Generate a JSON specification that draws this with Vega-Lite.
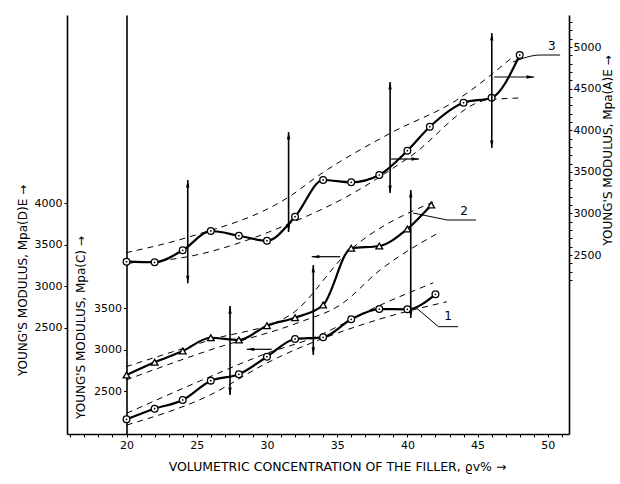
{
  "$schema": "https://vega.github.io/schema/vega-lite/v6.json",
  "width": 502,
  "height": 419,
  "autosize": "none",
  "padding": {"left": 67, "top": 15, "right": 51, "bottom": 50},
  "background": "white",
  "config": {
    "view": {"stroke": null},
    "font": "DejaVu Sans",
    "axis": {
      "grid": false,
      "domainColor": "#000",
      "domainWidth": 1.6,
      "tickColor": "#000",
      "tickSize": 3,
      "labelColor": "#000",
      "labelFont": "DejaVu Sans",
      "labelFontSize": 11,
      "labelFlush": false,
      "labelOverlap": false,
      "titleColor": "#000",
      "titleFont": "DejaVu Sans",
      "titleFontSize": 12,
      "titleFontWeight": "normal"
    }
  },
  "datasets": {
    "c1": [{"x":20,"y":2163},{"x":22,"y":2290},{"x":24,"y":2395},{"x":26,"y":2627},{"x":28,"y":2704},{"x":30,"y":2915},{"x":32,"y":3128},{"x":34,"y":3148},{"x":36,"y":3365},{"x":38,"y":3488},{"x":40,"y":3485},{"x":42,"y":3665}],
    "c2": [{"x":20,"y":2695},{"x":22,"y":2848},{"x":24,"y":2984},{"x":26,"y":3143},{"x":28,"y":3116},{"x":30,"y":3288},{"x":32,"y":3384},{"x":34,"y":3536},{"x":36,"y":4218},{"x":38,"y":4246},{"x":40,"y":4450},{"x":41.7,"y":4738}],
    "c3": [{"x":20,"y":2420},{"x":22,"y":2413},{"x":24,"y":2557},{"x":26,"y":2789},{"x":28,"y":2732},{"x":30,"y":2672},{"x":32,"y":2961},{"x":34,"y":3402},{"x":36,"y":3374},{"x":38,"y":3462},{"x":40,"y":3754},{"x":41.6,"y":4042},{"x":44,"y":4331},{"x":46,"y":4391},{"x":48,"y":4904}],
    "bandC": [
      {"band":"1u","x":20.01,"y":2235},{"band":"1u","x":25.95,"y":2675},{"band":"1u","x":29.99,"y":2956},{"band":"1u","x":33.28,"y":3140},{"band":"1u","x":37.82,"y":3516},{"band":"1u","x":41.85,"y":3804},
      {"band":"1l","x":20.01,"y":2094},{"band":"1l","x":25.95,"y":2455},{"band":"1l","x":29.99,"y":2839},{"band":"1l","x":37.82,"y":3356},{"band":"1l","x":42.81,"y":3576},
      {"band":"2u","x":19.96,"y":2795},{"band":"2u","x":25.95,"y":3116},{"band":"2u","x":31.65,"y":3416},{"band":"2u","x":35.92,"y":4197},{"band":"2u","x":41.83,"y":4774},
      {"band":"2l","x":19.96,"y":2635},{"band":"2l","x":25.95,"y":2996},{"band":"2l","x":32.36,"y":3332},{"band":"2l","x":35.21,"y":3536},{"band":"2l","x":38.06,"y":3957},{"band":"2l","x":42.33,"y":4414}
    ],
    "bandA": [
      {"band":"3u","x":19.96,"y":2528},{"band":"3u","x":24.36,"y":2713},{"band":"3u","x":31.77,"y":3222},{"band":"3u","x":33.55,"y":3441},{"band":"3u","x":38.77,"y":3963},{"band":"3u","x":43.52,"y":4363},{"band":"3u","x":47.53,"y":4884},
      {"band":"3l","x":20.01,"y":2401},{"band":"3l","x":24.36,"y":2480},{"band":"3l","x":31.93,"y":2901},{"band":"3l","x":35.68,"y":3201},{"band":"3l","x":40.19,"y":3682},{"band":"3l","x":45.66,"y":4363},{"band":"3l","x":48.03,"y":4387}
    ],
    "vC": [{"x":27.37,"y":3524,"y2":2455},{"x":33.3,"y":4017,"y2":2936},{"x":40.24,"y":4919,"y2":3380}],
    "vA": [{"x":24.36,"y":3402,"y2":2160},{"x":31.54,"y":3979,"y2":2777},{"x":38.77,"y":4580,"y2":3246},{"x":46.01,"y":5169,"y2":3786}],
    "hC": [{"x":35.21,"x2":33.19,"y":4117},{"x":30.34,"x2":28.56,"y":3004}],
    "hA": [{"x":38.84,"x2":40.83,"y":3654},{"x":46.18,"x2":49.03,"y":4640}],
    "leadC": [
      {"id":"1","x":40.67,"y":3497},{"id":"1","x":42.21,"y":3276},{"id":"1","x":43.61,"y":3276},
      {"id":"2","x":40.41,"y":4642},{"id":"2","x":42.83,"y":4558},{"id":"2","x":44.89,"y":4558}
    ],
    "labC": [{"x":42.9,"y":3320,"label":"1"},{"x":44.04,"y":4582,"label":"2"}],
    "leadA": [{"id":"3","x":47.53,"y":4820},{"id":"3","x":49.46,"y":4904},{"id":"3","x":50.88,"y":4904}],
    "labA": [{"x":50.28,"y":4928,"label":"3"}]
  },
  "encoding": {
    "x": {
      "field": "x",
      "type": "quantitative",
      "scale": {"domain": [15.76, 51.51], "nice": false, "zero": false},
      "axis": {
        "orient": "bottom",
        "values": [16,17,18,19,20,21,22,23,24,25,26,27,28,29,30,31,32,33,34,35,36,37,38,39,40,41,42,43,44,45,46,47,48,49,50,51],
        "labelExpr": "datum.value % 5 === 0 ? datum.label : ''",
        "labelPadding": 2,
        "title": "VOLUMETRIC CONCENTRATION OF THE FILLER, ϱv% →",
        "titleX": 270,
        "titleY": 32,
        "titleAlign": "center",
        "titleBaseline": "middle",
        "titleFontSize": 12.5
      }
    }
  },
  "layer": [
    {
      "encoding": {
        "y": {
          "field": "y",
          "type": "quantitative",
          "scale": {"domain": [1986, 7022], "nice": false, "zero": false},
          "axis": {
            "orient": "left",
            "offset": -59.5,
            "values": [2500, 3000, 3500],
            "format": "d",
            "title": "YOUNG'S MODULUS, Mpa(C) →",
            "titleX": -46,
            "titleY": 312,
            "titleAngle": 270,
            "titleAlign": "center",
            "titleBaseline": "middle"
          }
        }
      },
      "layer": [
        {"data": {"name": "bandC"}, "mark": {"type": "line", "color": "black", "strokeWidth": 1, "strokeDash": [6, 5], "interpolate": "monotone"}, "encoding": {"detail": {"field": "band"}}},
        {"data": {"name": "c1"}, "mark": {"type": "line", "color": "black", "strokeWidth": 2.2, "interpolate": "monotone"}, "encoding": {}},
        {"data": {"name": "c2"}, "mark": {"type": "line", "color": "black", "strokeWidth": 2.2, "interpolate": "monotone"}, "encoding": {}},
        {"data": {"name": "c1"}, "mark": {"type": "point", "shape": "circle", "filled": true, "fill": "white", "stroke": "black", "strokeWidth": 1.3, "size": 45, "opacity": 1}},
        {"data": {"name": "c1"}, "mark": {"type": "circle", "color": "black", "size": 3, "opacity": 1}},
        {"data": {"name": "c2"}, "mark": {"type": "point", "shape": "triangle-up", "filled": true, "fill": "white", "stroke": "black", "strokeWidth": 1.3, "size": 45, "opacity": 1}},
        {"data": {"name": "vC"}, "mark": {"type": "rule", "color": "black", "strokeWidth": 1.6}, "encoding": {"y2": {"field": "y2"}}},
        {"data": {"name": "vC"}, "mark": {"type": "point", "shape": "M0,0L0.35,1.6L-0.35,1.6Z", "filled": true, "color": "black", "size": 90, "opacity": 1}},
        {"data": {"name": "vC"}, "mark": {"type": "point", "shape": "M0,0L0.35,-1.6L-0.35,-1.6Z", "filled": true, "color": "black", "size": 90, "opacity": 1}, "encoding": {"y": {"field": "y2", "type": "quantitative"}}},
        {"data": {"name": "hC"}, "mark": {"type": "rule", "color": "black", "strokeWidth": 1.2}, "encoding": {"x2": {"field": "x2"}}},
        {"data": {"name": "hC"}, "mark": {"type": "point", "shape": "M0,0L1.6,0.35L1.6,-0.35Z", "filled": true, "color": "black", "size": 90, "opacity": 1}, "encoding": {"x": {"field": "x2", "type": "quantitative"}}},
        {"data": {"name": "leadC"}, "mark": {"type": "line", "color": "black", "strokeWidth": 1}, "encoding": {"detail": {"field": "id"}}},
        {"data": {"name": "labC"}, "mark": {"type": "text", "fontSize": 12, "align": "center", "baseline": "bottom", "color": "black"}, "encoding": {"text": {"field": "label"}}},
        {"mark": {"type": "rule", "color": "black", "strokeWidth": 1.8}, "encoding": {"x": {"datum": 11.56}, "x2": {"datum": 55.15}, "y": {"datum": 7022}}},
        {"mark": {"type": "rule", "color": "black", "strokeWidth": 1.8}, "encoding": {"x": {"datum": 11.56}, "y": {"datum": 7022}, "y2": {"datum": 1385}}}
      ]
    },
    {
      "encoding": {
        "y": {
          "field": "y",
          "type": "quantitative",
          "scale": {"domain": [349, 5385], "nice": false, "zero": false},
          "axis": {
            "orient": "right",
            "values": [2200,2300,2400,2500,2600,2700,2800,2900,3000,3100,3200,3300,3400,3500,3600,3700,3800,3900,4000,4100,4200,4300,4400,4500,4600,4700,4800,4900,5000,5100,5200,5300],
            "labelExpr": "datum.value % 500 === 0 ? datum.label : ''",
            "labelPadding": 1,
            "format": "d",
            "title": "YOUNG'S MODULUS, Mpa(A)E →",
            "titleX": 38,
            "titleY": 135,
            "titleAngle": 270,
            "titleAlign": "center",
            "titleBaseline": "middle"
          }
        }
      },
      "layer": [
        {"data": {"name": "bandA"}, "mark": {"type": "line", "color": "black", "strokeWidth": 1, "strokeDash": [6, 5], "interpolate": "monotone"}, "encoding": {"detail": {"field": "band"}}},
        {"data": {"name": "c3"}, "mark": {"type": "line", "color": "black", "strokeWidth": 2.2, "interpolate": "monotone"}, "encoding": {}},
        {"data": {"name": "c3"}, "mark": {"type": "point", "shape": "circle", "filled": true, "fill": "white", "stroke": "black", "strokeWidth": 1.3, "size": 45, "opacity": 1}},
        {"data": {"name": "c3"}, "mark": {"type": "circle", "color": "black", "size": 3, "opacity": 1}},
        {"data": {"name": "vA"}, "mark": {"type": "rule", "color": "black", "strokeWidth": 1.6}, "encoding": {"y2": {"field": "y2"}}},
        {"data": {"name": "vA"}, "mark": {"type": "point", "shape": "M0,0L0.35,1.6L-0.35,1.6Z", "filled": true, "color": "black", "size": 90, "opacity": 1}},
        {"data": {"name": "vA"}, "mark": {"type": "point", "shape": "M0,0L0.35,-1.6L-0.35,-1.6Z", "filled": true, "color": "black", "size": 90, "opacity": 1}, "encoding": {"y": {"field": "y2", "type": "quantitative"}}},
        {"data": {"name": "hA"}, "mark": {"type": "rule", "color": "black", "strokeWidth": 1.2}, "encoding": {"x2": {"field": "x2"}}},
        {"data": {"name": "hA"}, "mark": {"type": "point", "shape": "M0,0L-1.6,0.35L-1.6,-0.35Z", "filled": true, "color": "black", "size": 90, "opacity": 1}, "encoding": {"x": {"field": "x2", "type": "quantitative"}}},
        {"data": {"name": "leadA"}, "mark": {"type": "line", "color": "black", "strokeWidth": 1, "interpolate": "monotone"}, "encoding": {"detail": {"field": "id"}}},
        {"data": {"name": "labA"}, "mark": {"type": "text", "fontSize": 12, "align": "center", "baseline": "bottom", "color": "black"}, "encoding": {"text": {"field": "label"}}}
      ]
    },
    {
      "data": {"values": [{"x": 20, "y": 3000}]},
      "mark": {"type": "point", "opacity": 0},
      "encoding": {
        "y": {
          "field": "y",
          "type": "quantitative",
          "scale": {"domain": [1224, 6260], "nice": false, "zero": false},
          "axis": {
            "orient": "left",
            "values": [2500, 3000, 3500, 4000],
            "format": "d",
            "title": "YOUNG'S MODULUS, Mpa(D)E →",
            "titleX": -45,
            "titleY": 265,
            "titleAngle": 270,
            "titleAlign": "center",
            "titleBaseline": "middle"
          }
        }
      }
    }
  ],
  "resolve": {"scale": {"y": "independent"}}
}
